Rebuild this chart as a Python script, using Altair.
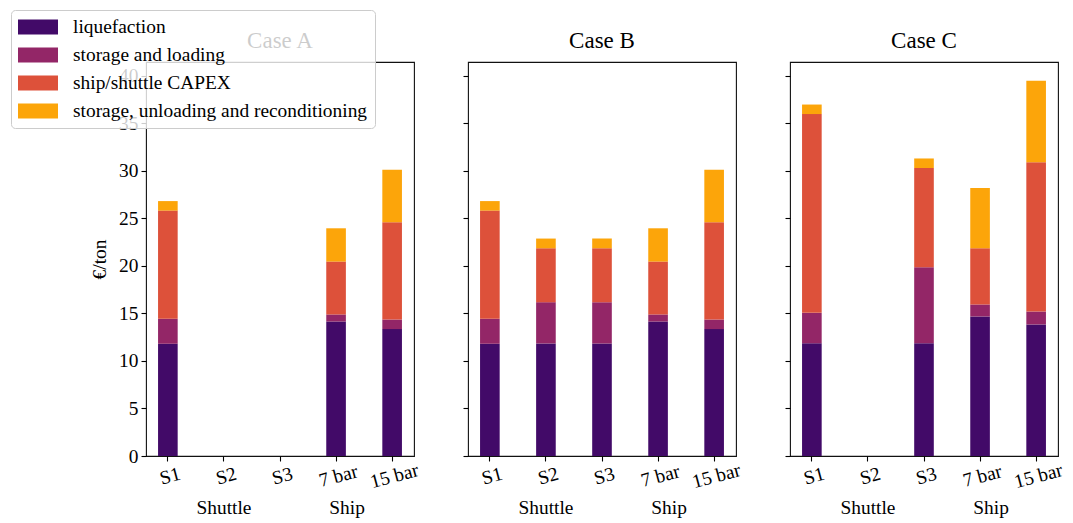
import altair as alt
import pandas as pd

FONT = "Liberation Serif"

categories = ["S1", "S2", "S3", "7 bar", "15 bar"]
components = ["liquefaction", "storage and loading", "ship/shuttle CAPEX",
              "storage, unloading and reconditioning"]
colors = ["#420a68", "#932667", "#dd513a", "#fca50a"]
cases = ["Case A", "Case B", "Case C"]

# segment heights in €/ton per category (None = no bar)
caseA_liquefaction = [11.8, None, None, 14.14, 13.34]
caseA_storage_loading = [2.63, None, None, 0.74, 1.01]
caseA_capex = [11.37, None, None, 5.56, 10.22]
caseA_unloading = [1.0, None, None, 3.5, 5.53]

caseB_liquefaction = [11.8, 11.83, 11.83, 14.14, 13.34]
caseB_storage_loading = [2.63, 4.34, 4.34, 0.74, 1.01]
caseB_capex = [11.37, 5.67, 5.67, 5.56, 10.22]
caseB_unloading = [1.0, 1.02, 1.02, 3.5, 5.53]

caseC_liquefaction = [11.85, None, 11.85, 14.67, 13.83]
caseC_storage_loading = [3.2, None, 8.0, 1.26, 1.36]
caseC_capex = [20.9, None, 10.43, 5.91, 15.68]
caseC_unloading = [1.0, None, 1.0, 6.34, 8.58]

series = {
    "Case A": [caseA_liquefaction, caseA_storage_loading, caseA_capex, caseA_unloading],
    "Case B": [caseB_liquefaction, caseB_storage_loading, caseB_capex, caseB_unloading],
    "Case C": [caseC_liquefaction, caseC_storage_loading, caseC_capex, caseC_unloading],
}

group_labels = ["Shuttle", "Ship"]
group_anchor = ["S2", "7 bar"]
y_ticks = [0, 5, 10, 15, 20, 25, 30, 35, 40]

rows = []
for case, comps in series.items():
    for ci, cat in enumerate(categories):
        for k, comp in enumerate(components):
            v = comps[k][ci]
            if v is None:
                continue
            rows.append(dict(case=case, category=cat, component=comp, order=k, value=v))
df = pd.DataFrame(rows)

totals = df.groupby(["case", "category"])["value"].sum()
ymax = float(totals.max()) * 1.05

W, H = 268, 394
FS = 19.4


def panel(case, first):
    d = df[df.case == case]
    legend = None
    if first:
        legend = alt.Legend(
            orient="none", legendX=-135, legendY=-52, title=None,
            symbolType="M-1,-0.75H3V0.75H-1Z", symbolSize=400,
            symbolStrokeWidth=0, symbolOpacity=1,
            labelFont=FONT, labelFontSize=FS, labelColor="#000000",
            labelOffset=35, labelLimit=500, rowPadding=8,
            fillColor="rgba(255,255,255,0.8)", strokeColor="#cccccc",
            cornerRadius=4, padding=7, zindex=1,
        )
    yaxis = alt.Axis(
        values=y_ticks, title="€/ton" if first else None, labels=first,
        titleFont=FONT, titleFontSize=FS, titleFontWeight="normal",
        titleColor="#000000", titlePadding=9,
    )
    xscale = alt.Scale(domain=categories, paddingInner=0.65, paddingOuter=0.215)
    bars = alt.Chart(d).mark_bar().encode(
        x=alt.X("category:N", sort=categories, scale=xscale,
                axis=alt.Axis(title=None, labelAngle=345, labelAlign="center",
                              labelBaseline="top", labelPadding=6)),
        y=alt.Y("value:Q", stack="zero",
                scale=alt.Scale(domain=[0, ymax], nice=False, zero=True),
                axis=yaxis),
        color=alt.Color("component:N",
                        scale=alt.Scale(domain=components, range=colors),
                        legend=legend),
        order=alt.Order("order:Q", sort="ascending"),
    )
    title = alt.Chart(pd.DataFrame({"t": [case]})).mark_text(
        font=FONT, fontSize=23, color="#000000", baseline="alphabetic", align="center"
    ).encode(x=alt.value(W / 2), y=alt.value(-14), text="t:N")
    gl1 = alt.Chart(pd.DataFrame({"category": [group_anchor[0]], "label": [group_labels[0]]})).mark_text(
        font=FONT, fontSize=FS, color="#000000", baseline="alphabetic", align="center"
    ).encode(x=alt.X("category:N", sort=categories, scale=xscale), y=alt.value(H + 58), text="label:N")
    gl2 = alt.Chart(pd.DataFrame({"category": [group_anchor[1]], "label": [group_labels[1]]})).mark_text(
        font=FONT, fontSize=FS, color="#000000", baseline="alphabetic", align="center", dx=11
    ).encode(x=alt.X("category:N", sort=categories, scale=xscale), y=alt.value(H + 58), text="label:N")
    return alt.layer(bars, title, gl1, gl2).properties(width=W, height=H)


chart = alt.hconcat(
    panel("Case A", True), panel("Case B", False), panel("Case C", False),
    spacing=54, bounds="flush",
    padding={"left": 1, "top": 0, "right": 0, "bottom": 0},
).resolve_scale(color="independent").configure(
    font=FONT,
).configure_view(
    stroke="#111111", strokeWidth=1.1
).configure_axis(
    grid=False, domain=False, labelFont=FONT, labelFontSize=FS, labelColor="#000000",
    tickColor="#000000", tickWidth=1.1, tickSize=5, labelPadding=3,
)

chart.save("out.html", embed_options={"renderer": "svg", "actions": False})
